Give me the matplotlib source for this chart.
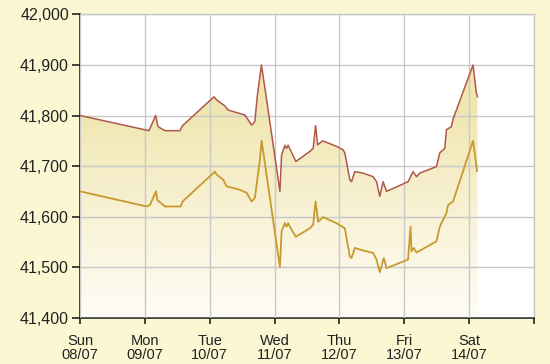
import numpy as np
import matplotlib.pyplot as plt
from matplotlib.colors import LinearSegmentedColormap

plt.rcParams['font.family'] = ['Liberation Sans', 'DejaVu Sans']

# du lieu doc tu hinh (truc x = so ngay ke tu Sun 08/07)
sell_day = [0.00, 1.063, 1.166, 1.202, 1.310, 1.541, 1.582, 2.065, 2.106, 2.234,
            2.280, 2.542, 2.646, 2.696, 2.732, 2.797, 2.866, 3.082, 3.108, 3.159,
            3.185, 3.210, 3.236, 3.328, 3.544, 3.595, 3.632, 3.663, 3.740, 3.955,
            4.057, 4.083, 4.160, 4.186, 4.237, 4.365, 4.519, 4.572, 4.622, 4.673,
            4.726, 5.058, 5.136, 5.188, 5.239, 5.496, 5.547, 5.624, 5.650, 5.727,
            5.752, 6.060, 6.112, 6.128]
sell_val = [41800, 41770, 41800, 41778, 41770, 41770, 41780, 41837, 41831, 41819,
            41811, 41801, 41781, 41788, 41837, 41900, 41841, 41650, 41722, 41741,
            41735, 41741, 41734, 41709, 41729, 41735, 41780, 41742, 41750, 41739,
            41732, 41726, 41673, 41669, 41689, 41686, 41679, 41669, 41640, 41669,
            41650, 41669, 41689, 41679, 41686, 41699, 41726, 41735, 41772, 41778,
            41793, 41900, 41844, 41837]

buy_day = [0.00, 1.028, 1.079, 1.171, 1.191, 1.310, 1.552, 1.582, 2.080, 2.106,
           2.208, 2.260, 2.465, 2.569, 2.646, 2.696, 2.773, 2.800, 3.082, 3.108,
           3.159, 3.185, 3.210, 3.236, 3.328, 3.544, 3.595, 3.632, 3.672, 3.749,
           3.955, 4.083, 4.160, 4.186, 4.237, 4.365, 4.519, 4.572, 4.622, 4.684,
           4.726, 5.058, 5.096, 5.111, 5.146, 5.188, 5.496, 5.547, 5.573, 5.650,
           5.675, 5.752, 6.060, 6.122]
buy_val = [41650, 41620, 41623, 41650, 41633, 41620, 41620, 41630, 41689, 41683,
           41673, 41660, 41653, 41647, 41630, 41637, 41712, 41750, 41500, 41571,
           41587, 41580, 41587, 41580, 41560, 41577, 41584, 41630, 41590, 41599,
           41587, 41577, 41521, 41518, 41538, 41533, 41528, 41515, 41490, 41518,
           41498, 41515, 41580, 41531, 41538, 41529, 41551, 41580, 41587, 41607,
           41623, 41630, 41750, 41690]

tick_labels = ['Sun\n08/07', 'Mon\n09/07', 'Tue\n10/07', 'Wed\n11/07',
               'Thu\n12/07', 'Fri\n13/07', 'Sat\n14/07', '']

fig = plt.figure(figsize=(5.5, 3.64), dpi=100)
fig.patch.set_facecolor('#fbf7d3')
ax = fig.add_axes([0.1455, 0.1272, 0.8254, 0.8332])
ax.set_facecolor('white')

ymin, ymax = 41400, 42000

# vung to mau gradient duoi duong tren
poly = ax.fill_between(sell_day, sell_val, ymin, color='none', lw=0)
cmap = LinearSegmentedColormap.from_list('g', ['#fefdf6', '#f8f2d6', '#f1e7b3', '#efe3a6'])
grad = np.linspace(0, 1, 256).reshape(-1, 1)
img = ax.imshow(grad, cmap=cmap, aspect='auto', origin='lower',
                extent=[0, 7, ymin, ymax], zorder=1)
img.set_clip_path(poly.get_paths()[0], transform=ax.transData)

ax.plot(sell_day, sell_val, color='#b0584a', lw=1.1, zorder=3)
ax.plot(buy_day, buy_val, color='#c89a2e', lw=1.3, zorder=3)

ax.set_xlim(0, 7)
ax.set_ylim(ymin, ymax)
ax.set_xticks(range(8))
ax.set_xticklabels(tick_labels, fontsize=10.5, linespacing=0.95)
ax.set_yticks(np.arange(41400, 42001, 100))
ax.set_yticklabels(['{:,}'.format(v) for v in range(41400, 42001, 100)], fontsize=11.5)

ax.grid(True, color='#c8c8c8', lw=1.0, zorder=2)
ax.set_axisbelow(False)
for s in ['top', 'right']:
    ax.spines[s].set_color('#c8c8c8')
    ax.spines[s].set_linewidth(1.0)
for s in ['left', 'bottom']:
    ax.spines[s].set_color('#222222')
    ax.spines[s].set_linewidth(1.2)
ax.tick_params(axis='y', length=6, width=1.2, pad=2, colors='#222222', labelcolor='#222222')
ax.tick_params(axis='x', length=4, width=1.2, pad=8, colors='#222222', labelcolor='#222222')

fig.savefig('out.png', dpi=100, facecolor=fig.get_facecolor())
